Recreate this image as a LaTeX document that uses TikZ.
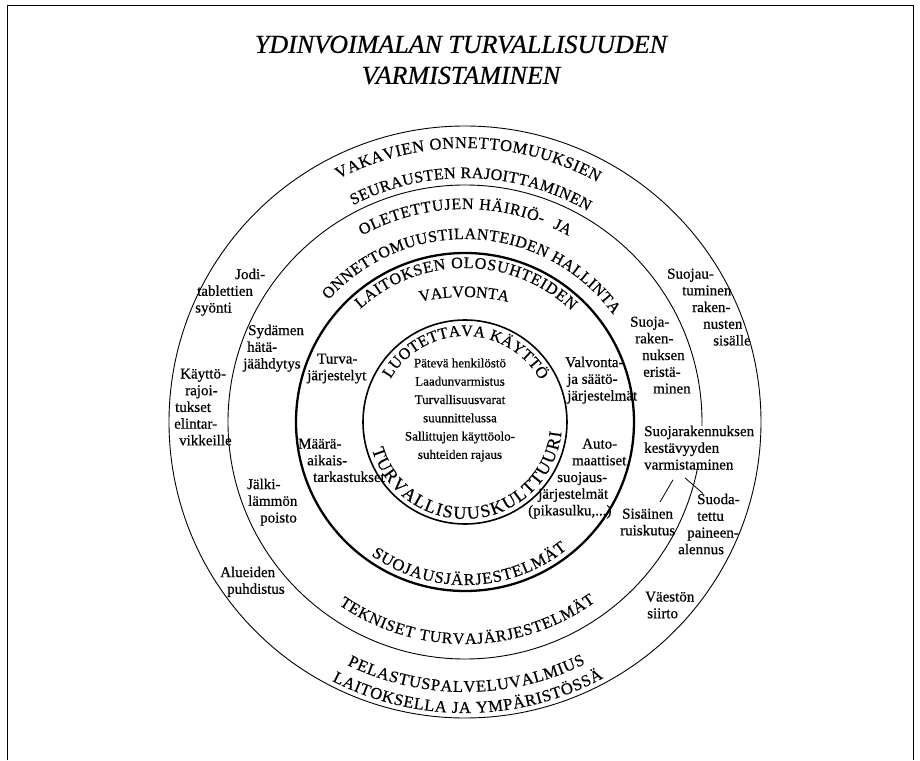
\documentclass[tikz,border=0pt]{standalone}
\usepackage{fontspec}
\setmainfont{Liberation Serif}[FakeBold=0.5]
\usetikzlibrary{decorations.text,calc}

\newcommand{\arcfont}{\fontsize{16.5}{16.5}\selectfont}
\newcommand{\arcfontsmall}{\fontsize{16}{16}\selectfont}

\tikzset{
  ring/.style={line width=0.9pt},
  arctext/.style={decorate, decoration={text along path, text align={fit to path}, text={#1}}},
  arclabel/.style={decorate, decoration={text along path, text align={center}, text={#1}}},
  sidenote/.style={anchor=north west, align=left, inner sep=0pt, font=\fontsize{15}{16.7}\selectfont},
  corenote/.style={align=center, inner sep=0pt, font=\fontsize{13}{18.3}\selectfont},
  headline/.style={align=center, inner sep=0pt, font=\itshape\fontsize{26}{31}\selectfont},
  link/.style={line width=0.8pt},
}

\begin{document}
\begin{tikzpicture}[x=1pt,y=1pt]
\useasboundingbox (-465,-338) rectangle (455,422);

% concentric rings, centred at the origin
\draw[ring] (0,0) circle[radius=296];
\draw[ring] (0,0) circle[radius=237];
\draw[line width=2.3pt] (0,0) circle[radius=169];
\draw[line width=1.6pt] (0,0) circle[radius=102];

% curved captions, upper halves (run clockwise)
\path[arctext={|\arcfont|VAKAVIEN ONNETTOMUUKSIEN}] (117.5:274) arc[start angle=117.5, end angle=61.1, radius=274];
\path[arctext={|\arcfontsmall|SEURAUSTEN RAJOITTAMINEN}] (117.3:244) arc[start angle=117.3, end angle=59.8, radius=244];
\path[arctext={|\arcfontsmall|OLETETTUJEN HÄIRIÖ-}] (118.9:213) arc[start angle=118.9, end angle=68.7, radius=213];
\path[arclabel={|\arcfontsmall|JA}] (68.3:213) arc[start angle=68.3, end angle=58.3, radius=213];
\path[arctext={|\arcfontsmall|ONNETTOMUUSTILANTEIDEN HALLINTA}] (138.2:183) arc[start angle=138.2, end angle=35.9, radius=183];
\path[arctext={|\arcfontsmall|LAITOKSEN OLOSUHTEIDEN}] (132.8:154) arc[start angle=132.8, end angle=46.3, radius=154];
\path[arctext={|\arcfontsmall|VALVONTA}] ([shift={(-1,-75)}]102.7:200) arc[start angle=102.7, end angle=77.3, radius=200];
\path[arctext={|\arcfontsmall|LUOTETTAVA KÄYTTÖ}] (150:86) arc[start angle=150, end angle=29, radius=86];

% curved captions, lower halves (run counter-clockwise)
\path[arctext={|\fontsize{18}{18}\selectfont|TURVALLISUUSKULTTUURI}] (196.5:97) arc[start angle=196.5, end angle=354, radius=97];
\path[arctext={|\arcfont|SUOJAUSJÄRJESTELMÄT}] (234.9:163) arc[start angle=234.9, end angle=308.7, radius=163];
\path[arctext={|\arcfontsmall|TEKNISET TURVAJÄRJESTELMÄT}] (235.4:222) arc[start angle=235.4, end angle=305.9, radius=222];
\path[arctext={|\arcfont|PELASTUSPALVELUVALMIUS}] (244.1:270) arc[start angle=244.1, end angle=296.5, radius=270];
\path[arctext={|\arcfont|LAITOKSELLA JA YMPÄRISTÖSSÄ}] (242.8:291) arc[start angle=242.8, end angle=298.4, radius=291];

% page furniture and straight labels, in page coordinates (y downwards)
\begin{scope}[y=-1pt, shift={(-465pt,422pt)}]
\draw[line width=0.8pt] (7,760) -- (7,5) -- (913,5) -- (913,760);

\node[headline] (title) at (461,60) {YDINVOIMALAN TURVALLISUUDEN\\VARMISTAMINEN};

\node[corenote] (core) at (460,410) {Pätevä henkilöstö\\Laadunvarmistus\\Turvallisuusvarat\\suunnittelussa\\Sallittujen käyttöolo-\\suhteiden rajaus};

% outer ring
\node[sidenote] (jodi) at (195,268.5) {\hspace*{40pt}Jodi-\\\hspace*{2pt}tablettien\\syönti};
\node[sidenote] (rajoitus) at (174,368.5) {\hspace*{6pt}Käyttö-\\\hspace*{11pt}rajoi-\\\hspace*{1pt}tukset\\elintar-\\\hspace*{5pt}vikkeille};
\node[sidenote] (puhdistus) at (220,566.5) {Alueiden\\\hspace*{7pt}puhdistus};
\node[sidenote] (suojautuminen) at (667,268.5) {Suojau-\\\hspace*{15pt}tuminen\\\hspace*{25pt}raken-\\\hspace*{36pt}nusten\\\hspace*{46pt}sisälle};
\node[sidenote] (vaeston) at (645,591.5) {Väestön\\\hspace*{2pt}siirto};

% second ring
\node[sidenote] (sydamen) at (243,324.5) {\hspace*{5pt}Sydämen\\\hspace*{4pt}hätä-\\jäähdytys};
\node[sidenote] (jalki) at (247,478.5) {Jälki-\\\hspace*{1pt}lämmön\\\hspace*{13pt}poisto};
\node[sidenote] (eristaminen) at (630,316.5) {Suoja-\\\hspace*{5pt}raken-\\\hspace*{12pt}nuksen\\\hspace*{13pt}eristä-\\\hspace*{23pt}minen};
\node[sidenote, fill=white] (kestavyys) at (644,425.5) {Suojarakennuksen\\kestävyyden\\varmistaminen};
\node[sidenote] (sisainen) at (620,508.5) {\hspace*{2pt}Sisäinen\\ruiskutus};
\node[sidenote] (suodatettu) at (678,493.5) {\hspace*{19pt}Suoda-\\\hspace*{19pt}tettu\\\hspace*{9pt}paineen-\\alennus};

% third ring
\node[sidenote] (turva) at (307,353.5) {\hspace*{10pt}Turva-\\järjestelyt};
\node[sidenote] (maara) at (298,438.5) {Määrä-\\\hspace*{9pt}aikais-\\\hspace*{15pt}tarkastukset};
\node[sidenote] (valvonta) at (565,356.5) {Valvonta-\\\hspace*{2pt}ja säätö-\\\hspace*{2pt}järjestelmät};
\node[sidenote] (auto) at (528,438.5) {\hspace*{54pt}Auto-\\\hspace*{44pt}maattiset\\\hspace*{29pt}suojaus-\\\hspace*{10pt}järjestelmät\\(pikasulku,...)};

% pointers from the containment item to its two measures
\draw[link] ($(kestavyys.south west)+(29,10)$) -- ($(sisainen.north west)+(40,-6.5)$);
\draw[link] ($(kestavyys.south west)+(41,8)$) -- ($(suodatettu.north west)+(25,0)$);
\end{scope}
\end{tikzpicture}
\end{document}
